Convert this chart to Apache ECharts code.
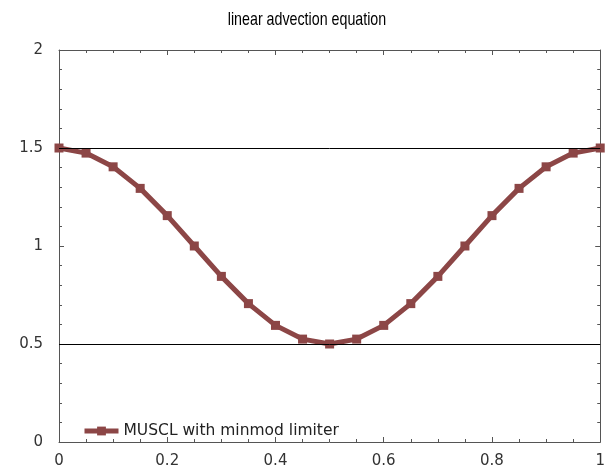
<!DOCTYPE html>
<html><head><meta charset="utf-8">
<script src="https://cdn.jsdelivr.net/npm/echarts@6/dist/echarts.min.js"></script>
<style>html,body{margin:0;padding:0;background:#fff}#c{width:608px;height:469px}</style>
</head><body><div id="c"></div>
<script>
const xValues = [0,0.05,0.1,0.15,0.2,0.25,0.3,0.35,0.4,0.45,0.5,0.55,0.6,0.65,0.7,0.75,0.8,0.85,0.9,0.95,1];
const yValues = [1.5,1.474,1.404,1.294,1.155,1.0,0.845,0.706,0.595,0.525,0.5,0.525,0.595,0.706,0.845,1.0,1.155,1.294,1.404,1.474,1.5];
const refLines = [0.5, 1.5];
const seriesName = 'MUSCL with minmod limiter';
const titleText = 'linear advection equation';

const chart = echarts.init(document.getElementById('c'), null, {renderer:'canvas'});
const font = 'DejaVu Sans';
function ax(extra, minorSplit){
  return Object.assign({
    type:'value',
    axisLine:{show:true,onZero:false,lineStyle:{color:'#555',width:1}},
    axisTick:{show:true,inside:true,length:5,lineStyle:{color:'#555'}},
    minorTick:{show:true,splitNumber:minorSplit,length:3,lineStyle:{color:'#555'}},
    splitLine:{show:false}
  }, extra);
}
const lbl = {fontFamily:font,fontSize:15,color:'#333',formatter:v=>String(+v.toFixed(1))};
chart.setOption({
  animation:false,
  graphic:[{type:'text',x:307,y:10,scaleX:0.75,originX:0,originY:0,
    style:{text:titleText,fontFamily:'Liberation Sans',fontSize:19,fill:'#000',align:'center',verticalAlign:'top'}}],
  grid:{left:59,right:4,top:50,bottom:27,containLabel:false},
  legend:{left:77,top:418,itemWidth:34,itemHeight:11,itemGap:9,
    lineStyle:{width:5},
    textStyle:{fontFamily:font,fontSize:15.5,color:'#222'},data:[seriesName]},
  xAxis:[
    ax({min:0,max:1,interval:0.2,position:'bottom',axisLabel:Object.assign({margin:12},lbl)},4),
    ax({min:0,max:1,interval:0.2,position:'top',axisLabel:{show:false}},4)
  ],
  yAxis:[
    ax({min:0,max:2,interval:0.5,position:'left',axisLabel:Object.assign({margin:16},lbl)},5),
    ax({min:0,max:2,interval:0.5,position:'right',axisLabel:{show:false}},5)
  ],
  series:[{
    name:seriesName,type:'line',xAxisIndex:0,yAxisIndex:0,
    data:xValues.map((x,i)=>[x,yValues[i]]),
    symbol:'rect',symbolSize:9,
    lineStyle:{color:'#8c4646',width:5},
    itemStyle:{color:'#8c4646'},
    markLine:{silent:true,symbol:'none',label:{show:false},
      lineStyle:{color:'#000',width:1,type:'solid'},
      data:refLines.map(v=>({yAxis:v}))},
    z:3
  },{
    name:'_frame',type:'line',xAxisIndex:1,yAxisIndex:1,data:[],silent:true
  }]
});
</script></body></html>
